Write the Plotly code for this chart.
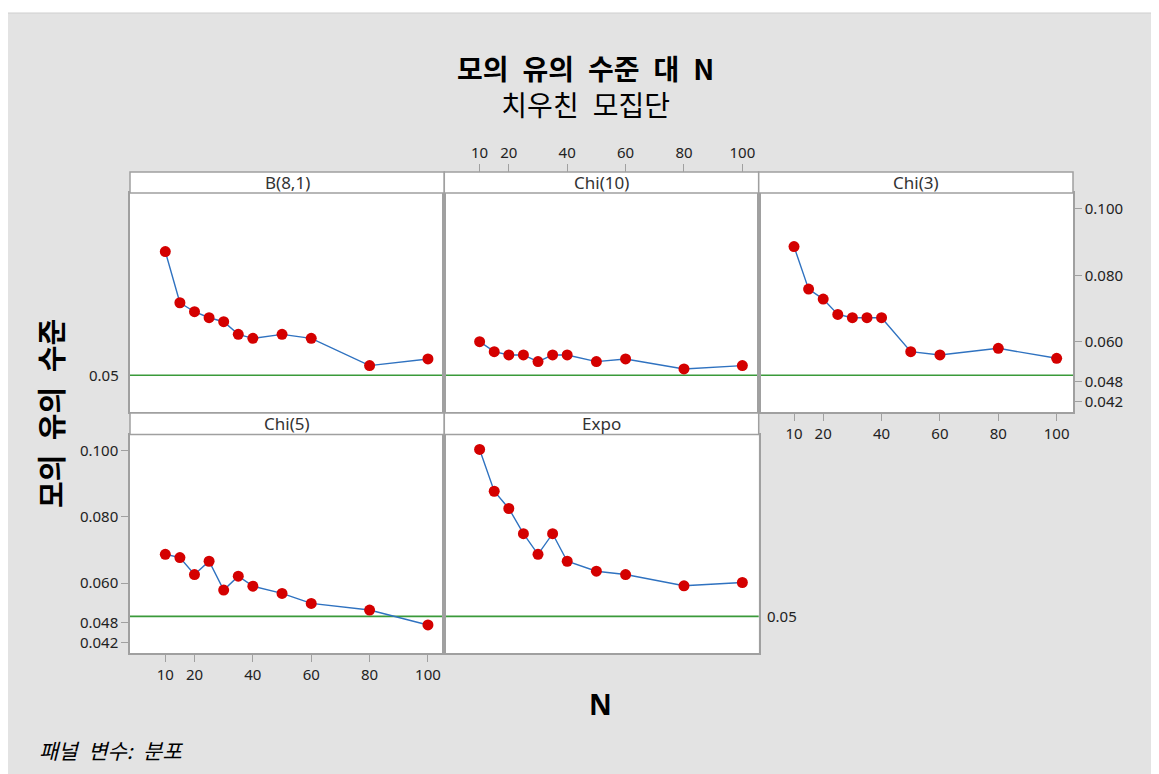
import plotly.graph_objects as go

# ---------------- data ----------------
N = [10, 15, 20, 25, 30, 35, 40, 50, 60, 80, 100]
panels = ["B(8,1)", "Chi(10)", "Chi(3)", "Chi(5)", "Expo"]
sig_B81 = [0.0872, 0.0718, 0.0691, 0.0673, 0.0661, 0.0623, 0.0611, 0.0623, 0.0611, 0.0529, 0.0549]
sig_Chi10 = [0.0601, 0.0571, 0.0561, 0.0561, 0.0541, 0.0561, 0.0561, 0.0541, 0.0549, 0.0519, 0.0529]
sig_Chi3 = [0.0887, 0.0759, 0.0729, 0.0683, 0.0673, 0.0673, 0.0673, 0.0571, 0.0561, 0.0581, 0.0551]
sig_Chi5 = [0.0687, 0.0677, 0.0626, 0.0666, 0.0579, 0.0621, 0.0591, 0.0569, 0.0539, 0.0519, 0.0474]
sig_Expo = [0.1003, 0.0877, 0.0825, 0.0749, 0.0687, 0.0749, 0.0666, 0.0636, 0.0626, 0.0592, 0.0602]
x_ticks = [10, 20, 40, 60, 80, 100]
y_ticks = [0.042, 0.048, 0.060, 0.080, 0.100]
y_ticktext = ["0.042", "0.048", "0.060", "0.080", "0.100"]
ref_level = 0.05
ref_label = "0.05"

series = [sig_B81, sig_Chi10, sig_Chi3, sig_Chi5, sig_Expo]

# ---------------- layout helpers ----------------
# the page body has an 8px margin, so figure coordinates are page coordinates minus 8
OFF = 8
W, H = 1151, 766
def px(x):
    return (x - OFF) / W
def py(y):
    return 1 - (y - OFF) / H

cols = [(130, 444.3), (444.3, 758.7), (758.7, 1073)]
rows = [(193, 412), (434.5, 653)]          # plot areas (top, bottom) in page px
strips = [(172, 193), (413, 434.5)]         # strip boxes
pos = [(0, 0), (0, 1), (0, 2), (1, 0), (1, 1)]  # (row, col) for each panel

XR = [-2.1, 105.6]
YR = [0.03895, 0.1048]

GRID = "#a0a0a0"
TXT = "#222222"
FONT = "Noto Sans, Noto Sans CJK KR, sans-serif"
KFONT = "Noto Sans CJK KR, sans-serif"
tickfont = dict(family=FONT, size=15, color=TXT)

fig = go.Figure()
for i, (name, ys) in enumerate(zip(panels, series)):
    k = "" if i == 0 else str(i + 1)
    fig.add_trace(go.Scatter(
        x=N, y=ys, mode="lines+markers", name=name,
        xaxis="x" + k, yaxis="y" + k, showlegend=False,
        line=dict(color="#2f72c0", width=1.4),
        marker=dict(color="#d40000", size=11, symbol="circle"),
    ))
# helper invisible trace for the top axis above Chi(10)
fig.add_trace(go.Scatter(x=[None], y=[None], xaxis="x6", yaxis="y2",
                         showlegend=False, hoverinfo="skip"))

x_show = {2: True, 3: True}      # panels with bottom x ticks (Chi(3), Chi(5))
y_show = {2: "right", 3: "left"}  # Chi(3) right, Chi(5) left

layout = dict(
    width=W, height=H,
    margin=dict(l=0, r=0, t=0, b=0),
    paper_bgcolor="#e3e3e3",
    plot_bgcolor="white",
    showlegend=False,
    font=dict(family=FONT, color=TXT),
)

for i in range(5):
    r, c = pos[i]
    k = "" if i == 0 else str(i + 1)
    sx = i in x_show
    sy = y_show.get(i)
    layout["xaxis" + k] = dict(
        domain=[px(cols[c][0]), px(cols[c][1])], range=XR, anchor="y" + k,
        showgrid=False, zeroline=False, showline=True, mirror=True,
        linecolor=GRID, linewidth=1.5,
        tickvals=x_ticks, ticks="outside" if sx else "", ticklen=7,
        tickcolor=GRID, showticklabels=sx, tickfont=tickfont,
    )
    layout["yaxis" + k] = dict(
        domain=[py(rows[r][1]), py(rows[r][0])], range=YR, anchor="x" + k,
        side=sy if sy else "left",
        showgrid=False, zeroline=False, showline=True, mirror=True,
        linecolor=GRID, linewidth=1.5,
        tickvals=y_ticks, ticktext=y_ticktext,
        ticks="outside" if sy else "", ticklen=7,
        tickcolor=GRID, showticklabels=bool(sy), tickfont=tickfont,
    )

layout["xaxis6"] = dict(
    domain=[px(cols[1][0]), px(cols[1][1])], range=XR, anchor="free",
    position=py(strips[0][0]), side="top", overlaying="x2",
    showgrid=False, zeroline=False, showline=False,
    tickvals=x_ticks, ticks="outside", ticklen=8, tickcolor=GRID,
    tickfont=tickfont,
)

shapes = []
# white band above the grey page area
shapes.append(dict(type="rect", xref="paper", yref="paper",
                   x0=0, x1=1, y0=py(13), y1=1,
                   fillcolor="white", line=dict(width=0), layer="below"))
shapes.append(dict(type="line", xref="paper", yref="paper",
                   x0=0, x1=1, y0=py(13), y1=py(13),
                   line=dict(color="#cfcfcf", width=1), layer="below"))
annotations = []
for i, name in enumerate(panels):
    r, c = pos[i]
    s0, s1 = strips[r]
    shapes.append(dict(type="rect", xref="paper", yref="paper",
                       x0=px(cols[c][0]), x1=px(cols[c][1]), y0=py(s1), y1=py(s0),
                       fillcolor="white", line=dict(color=GRID, width=1.5),
                       layer="above"))
    annotations.append(dict(text=name, xref="paper", yref="paper",
                            x=px((cols[c][0] + cols[c][1]) / 2), y=py((s0 + s1) / 2),
                            xanchor="center", yanchor="middle", showarrow=False,
                            font=dict(family=FONT, size=17, color="#333333")))
    k = "" if i == 0 else str(i + 1)
    shapes.append(dict(type="line", xref="x" + k + " domain", yref="y" + k,
                       x0=0, x1=1, y0=ref_level, y1=ref_level,
                       line=dict(color="#3a9a3a", width=1.6), layer="below"))

# reference-line labels
annotations.append(dict(text=ref_label, xref="paper", yref="y",
                        x=px(121), y=ref_level, xanchor="right", yanchor="middle",
                        showarrow=False, font=tickfont))
annotations.append(dict(text=ref_label, xref="paper", yref="y5",
                        x=px(765), y=ref_level, xanchor="left", yanchor="middle",
                        showarrow=False, font=tickfont))

# titles (one two-line annotation)
SP = "\u2002"
annotations.append(dict(
    text="<b>모의" + SP + "유의" + SP + "수준" + SP + "대" + SP + "N</b><br>치우친" + SP + "모집단",
    xref="paper", yref="paper", x=px(585), y=py(86), xanchor="center", yanchor="middle",
    showarrow=False, font=dict(family=KFONT, size=28, color="#000000")))
annotations.append(dict(text="<b>모의\u2002유의\u2002수준</b>", xref="paper", yref="paper",
                        x=px(50), y=py(414), xanchor="center", yanchor="middle",
                        textangle=-90, showarrow=False,
                        font=dict(family=KFONT, size=29, color="#000000")))
annotations.append(dict(text="<b>N</b>", xref="paper", yref="paper",
                        x=px(600), y=py(704), xanchor="center", yanchor="middle",
                        showarrow=False, font=dict(family=FONT, size=28, color="#000000")))
annotations.append(dict(text="<i>패널\u2002변수:\u2002분포</i>", xref="paper", yref="paper",
                        x=px(37), y=py(750), xanchor="left", yanchor="middle",
                        showarrow=False, font=dict(family=KFONT, size=21, color="#000000")))

layout["shapes"] = shapes
layout["annotations"] = annotations
fig.update_layout(**layout)
fig.write_html("out.html")
